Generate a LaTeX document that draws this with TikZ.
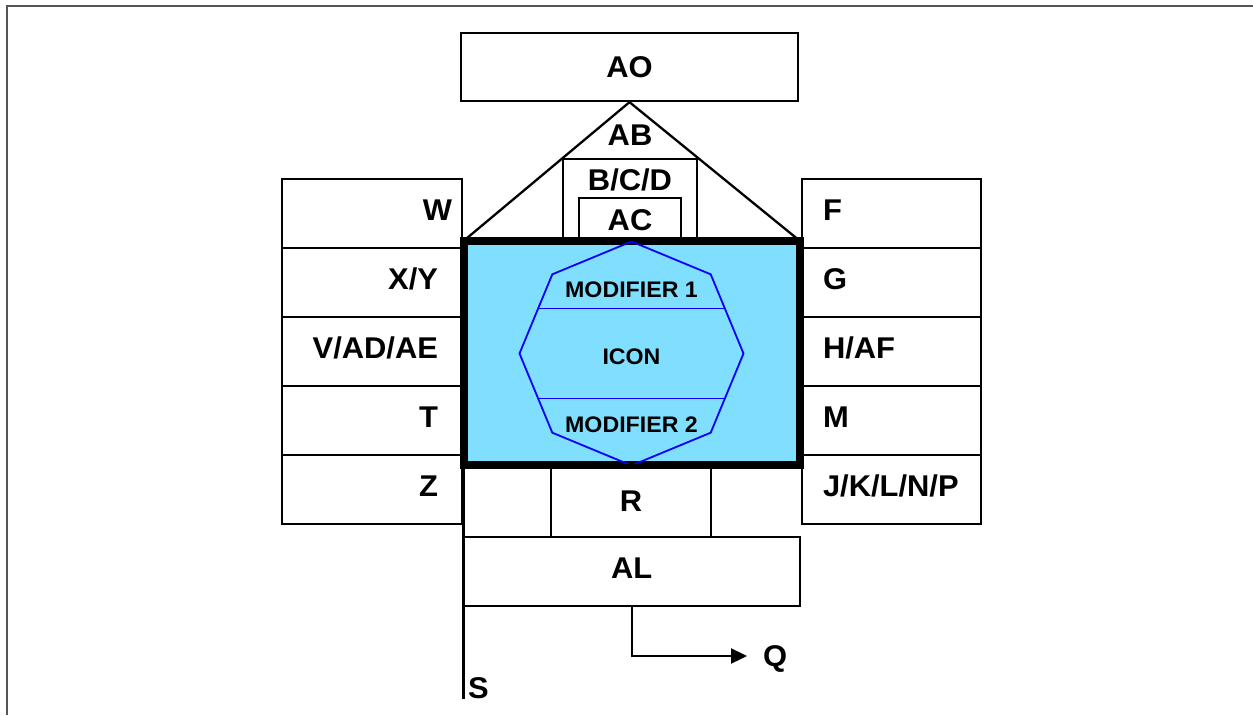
\documentclass[tikz,border=0pt]{standalone}
\usepackage{fontspec}
\setmainfont[FakeStretch=1.03]{Liberation Sans}
\usepackage{tikz}
\usetikzlibrary{calc,arrows.meta}
\definecolor{iconblue}{RGB}{128,223,255}
\definecolor{framegray}{RGB}{85,85,85}

\begin{document}
\begin{tikzpicture}[x=1pt, y=-1pt, >={Triangle[length=16pt,width=15pt]}, box/.style={draw, rectangle, line width=2.3pt, inner sep=0pt, font=\bfseries\fontsize{30}{35}\selectfont, text height=21.5pt, text depth=0pt}, lcell/.style={box, minimum width=180pt, minimum height=68.9pt, text width=132pt, align=right, inner xsep=24pt, text depth=8pt}, rcell/.style={box, minimum width=179pt, minimum height=68.9pt, text width=137pt, align=left, inner xsep=21pt, text depth=8pt}, lbl/.style={inner sep=0pt, font=\bfseries\fontsize{30}{35}\selectfont, text height=21.5pt, text depth=0pt}, mod/.style={inner sep=0pt, font=\bfseries\fontsize{22.5}{27}\selectfont, text height=16.3pt, text depth=0pt}, icon/.style={draw=blue, line width=1.8pt}]

\useasboundingbox (0,0) rectangle (1253,715);
\draw[framegray, line width=2pt] (1253,6) -- (7,6) -- (7,715);

% roof
\node[box, minimum width=337pt, minimum height=68pt] (ao) at (629.5,67) {AO};
\coordinate (nw) at (463.5,241);
\coordinate (ne) at (800,241);
\draw[line width=2.3pt] (nw) -- (ao.south) -- (ne);
\node[lbl] (ab) at (630,135) {AB};
\node[box, minimum width=134pt, minimum height=82pt] (bcd) at (630,200) {};
\node[lbl] (bcdtxt) at (630,180) {B/C/D};
\node[box, minimum width=102pt, minimum height=43pt] (ac) at (630,219.5) {AC};

% main box and icon
\node[draw, rectangle, line width=8pt, fill=iconblue, minimum width=336.5pt, minimum height=224pt, inner sep=0pt, outer sep=0pt] (main) at (631.75,353) {};
\coordinate (oc) at (631.5,353.5);
\draw[icon] (oc) +(90:112) -- +(135:112) -- +(180:112) -- +(225:112) -- +(270:112) -- +(315:112) -- +(0:112) -- +(45:112) -- cycle;
\coordinate (o1) at ($(oc)+(135:112)$);
\coordinate (o2) at ($(oc)+(180:112)$);
\coordinate (o3) at ($(oc)+(225:112)$);
\coordinate (o4) at ($(oc)+(45:112)$);
\coordinate (o5) at ($(oc)+(0:112)$);
\coordinate (o6) at ($(oc)+(315:112)$);
\draw[icon] ($(o1)!0.432!(o2)$) -- ($(o4)!0.432!(o5)$);
\draw[icon] ($(o3)!0.432!(o2)$) -- ($(o6)!0.432!(o5)$);
\node[mod] (mod1) at (631.5,289) {MODIFIER 1};
\node[mod] (icontxt) at (631.5,356) {ICON};
\node[mod] (mod2) at (631.5,424) {MODIFIER 2};

% left column
\node[lcell, inner xsep=10pt, text width=160pt] (w) at (372,213.65) {W};
\node[lcell] (xy) at (372,282.55) {X/Y};
\node[lcell] (vadae) at (372,351.45) {V/AD/AE};
\node[lcell] (t) at (372,420.35) {T};
\node[lcell] (z) at (372,489.25) {Z};

% right column
\node[rcell] (f) at (891.5,213.65) {F};
\node[rcell] (g) at (891.5,282.55) {G};
\node[rcell] (haf) at (891.5,351.45) {H/AF};
\node[rcell] (m) at (891.5,420.35) {M};
\node[rcell] (jklnp) at (891.5,489.25) {J/K/L/N/P};

% bottom
\node[box, minimum width=160pt, minimum height=72pt] (r) at (631,501) {R};
\node[box, minimum width=336.5pt, minimum height=69pt, text depth=7pt] (al) at (631.75,571.5) {AL};
\node[lbl, anchor=west] (s) at (468,688) {S};
\node[lbl, anchor=west] (q) at (763,656) {Q};
\draw[line width=2.3pt] (main.south west) -- (main.south west |- s.south);
\draw[->, line width=2.3pt, shorten >=16pt] (al.south) |- (q.west);
\end{tikzpicture}
\end{document}
